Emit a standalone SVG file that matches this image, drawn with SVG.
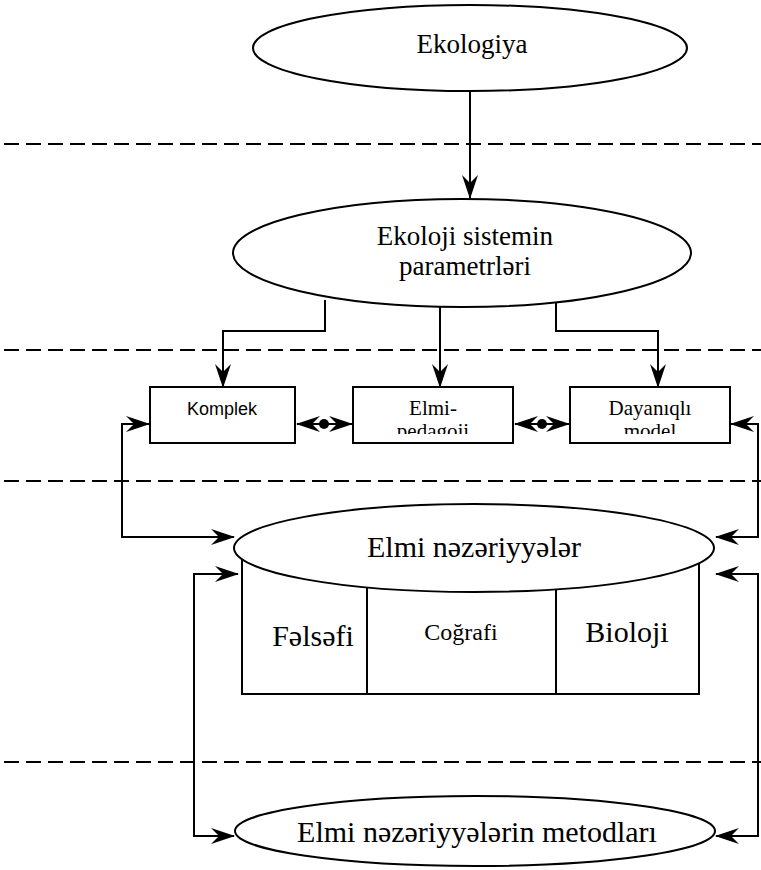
<svg xmlns="http://www.w3.org/2000/svg" width="761" height="870" viewBox="0 0 761 870">
<style>
.ln{fill:none;stroke:#000;stroke-width:2}
.dash{fill:none;stroke:#000;stroke-width:2;stroke-dasharray:15 7}
.shape{fill:#fff;stroke:#000;stroke-width:2}
.t{font-family:"Liberation Serif","Times New Roman",serif;font-size:27px;fill:#000;text-anchor:middle}
.tl{font-family:"Liberation Serif","Times New Roman",serif;font-size:30px;fill:#000;text-anchor:middle}
.ts{font-family:"Liberation Serif","Times New Roman",serif;font-size:21px;fill:#000;text-anchor:middle}
.tsans{font-family:"Liberation Sans",Arial,sans-serif;font-size:18px;fill:#000;text-anchor:middle}
</style>
<defs>
<marker id="arr" markerWidth="28" markerHeight="20" viewBox="-26 -10 28 20" refX="0" refY="0" orient="auto-start-reverse" markerUnits="userSpaceOnUse">
<path d="M1,0 L-23,-8 L-15,0 L-23,8 Z" fill="#000"/>
</marker>
<clipPath id="c2"><rect x="354" y="388" width="158" height="46"/></clipPath>
<clipPath id="c3"><rect x="571" y="388" width="158" height="46"/></clipPath>
</defs>
<rect width="761" height="870" fill="#fff"/>
<g id="separators">
<line class="dash" x1="4" y1="144" x2="761" y2="144"/>
<line class="dash" x1="4" y1="350" x2="761" y2="350"/>
<line class="dash" x1="4" y1="481" x2="761" y2="481"/>
<line class="dash" x1="4" y1="762" x2="761" y2="762"/>
</g>
<g id="connectors">
<line class="ln" x1="470" y1="91" x2="470" y2="198" marker-end="url(#arr)"/>
<polyline class="ln" points="325,300 325,331 223,331 223,387" marker-end="url(#arr)"/>
<line class="ln" x1="440" y1="307" x2="440" y2="387" marker-end="url(#arr)"/>
<polyline class="ln" points="556,300 556,331 658,331 658,387" marker-end="url(#arr)"/>
<line class="ln" x1="297" y1="424" x2="352" y2="424" marker-start="url(#arr)" marker-end="url(#arr)"/>
<circle cx="324" cy="424" r="5" fill="#000"/>
<line class="ln" x1="515" y1="424" x2="569" y2="424" marker-start="url(#arr)" marker-end="url(#arr)"/>
<circle cx="542" cy="424" r="5" fill="#000"/>
<polyline class="ln" points="149,424 122,424 122,537 234,537" marker-start="url(#arr)" marker-end="url(#arr)"/>
<polyline class="ln" points="731,424 758,424 758,537 716,537" marker-start="url(#arr)" marker-end="url(#arr)"/>
<polyline class="ln" points="238,574 194,574 194,836 234,836" marker-start="url(#arr)" marker-end="url(#arr)"/>
<polyline class="ln" points="716,574 758,574 758,836 716,836" marker-start="url(#arr)" marker-end="url(#arr)"/>
</g>
<g id="ekologiya">
<ellipse class="shape" cx="470" cy="48" rx="217" ry="43"/>
<text class="t" x="472" y="53">Ekologiya</text>
</g>
<g id="ekoloji-sistem">
<ellipse class="shape" cx="462" cy="253" rx="229" ry="54"/>
<text class="t" x="465" y="245">Ekoloji sistemin</text>
<text class="t" x="465" y="275">parametrləri</text>
</g>
<g id="komplek">
<rect class="shape" x="150" y="387" width="145" height="56"/>
<text class="tsans" x="222" y="415">Komplek</text>
</g>
<g id="elmi-pedagoji">
<rect class="shape" x="353" y="387" width="160" height="56"/>
<g clip-path="url(#c2)">
<text class="ts" x="433" y="415">Elmi-</text>
<text class="ts" x="433" y="438">pedagoji</text>
</g>
</g>
<g id="dayaniqli">
<rect class="shape" x="570" y="387" width="160" height="56"/>
<g clip-path="url(#c3)">
<text class="ts" x="650" y="415">Dayanıqlı</text>
<text class="ts" x="650" y="438">model</text>
</g>
</g>
<g id="elmi-nezeriyyeler">
<rect class="shape" x="242" y="548" width="457" height="146"/>
<line class="ln" x1="367" y1="580" x2="367" y2="694"/>
<line class="ln" x1="556" y1="580" x2="556" y2="694"/>
<ellipse class="shape" cx="474" cy="548" rx="240" ry="44"/>
<text class="tl" x="474" y="557">Elmi nəzəriyyələr</text>
<text class="tl" x="313" y="646">Fəlsəfi</text>
<text class="t" x="461" y="640" style="font-size:24px">Coğrafi</text>
<text class="tl" x="627" y="642">Bioloji</text>
</g>
<g id="metodlar">
<ellipse class="shape" cx="475" cy="831" rx="240" ry="35"/>
<text class="tl" x="477" y="842">Elmi nəzəriyyələrin metodları</text>
</g>
</svg>
